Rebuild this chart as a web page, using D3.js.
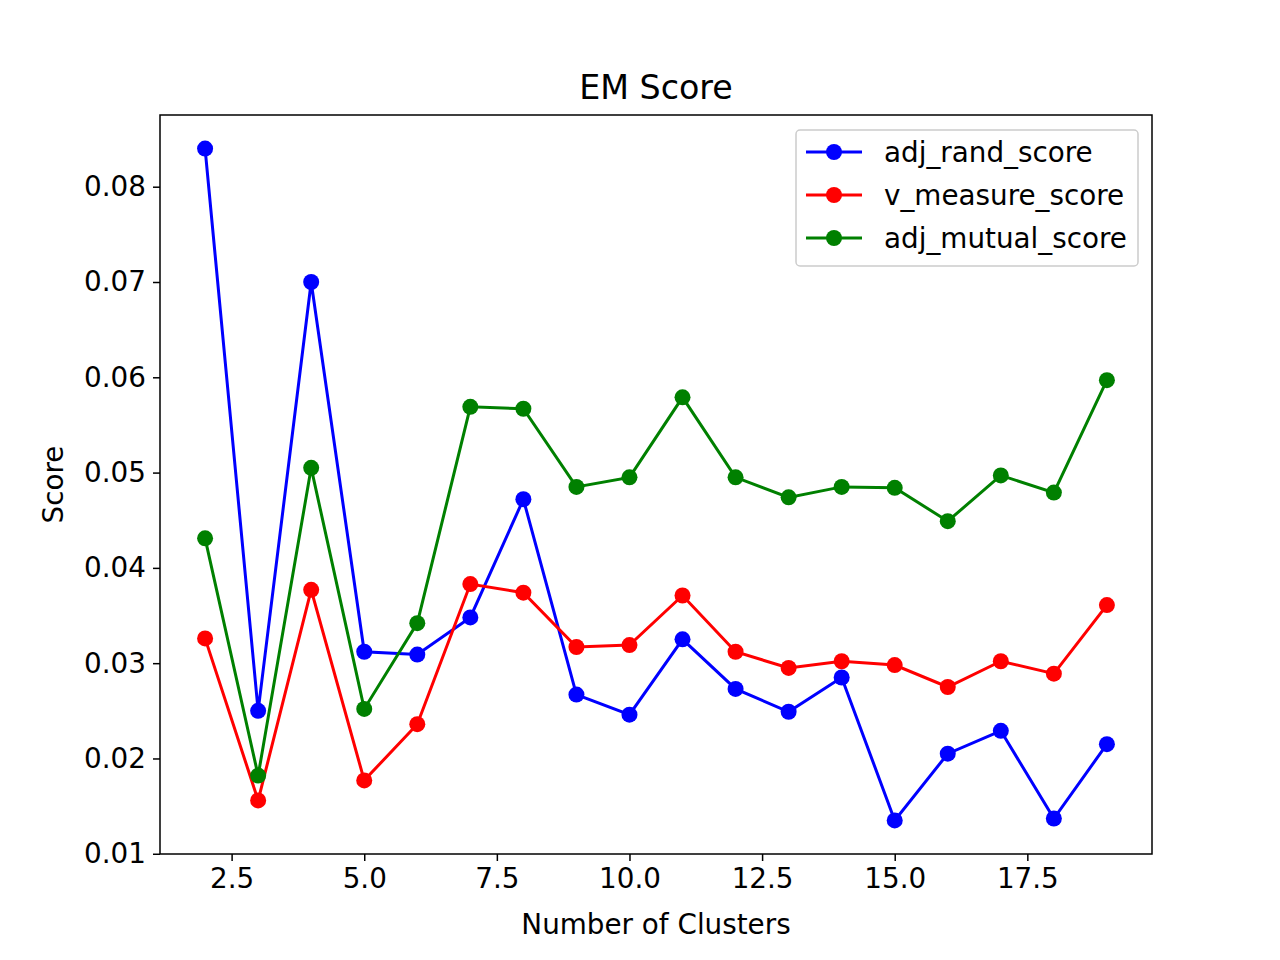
<!DOCTYPE html>
<html><head><meta charset="utf-8">
<script src="https://cdn.jsdelivr.net/npm/d3@7"></script>
<style>body{margin:0;background:#fff}svg{font-family:"DejaVu Sans",sans-serif}</style>
</head><body>
<svg id="chart" width="1280" height="960"></svg>
<script>
var clusters = [2,3,4,5,6,7,8,9,10,11,12,13,14,15,16,17,18,19];
var adjRand = [0.084,0.025,0.070,0.0312,0.0309,0.0348,0.0472,0.0267,0.0246,0.0325,0.0273,0.0249,0.0285,0.0135,0.0205,0.0229,0.0137,0.0215];
var vMeasure = [0.0326,0.0156,0.0377,0.0177,0.0236,0.0383,0.0374,0.0317,0.0319,0.0371,0.0312,0.0295,0.0302,0.0298,0.0275,0.0302,0.0289,0.0361];
var adjMutual = [0.0431,0.0182,0.0505,0.0252,0.0342,0.0569,0.0567,0.0485,0.0495,0.0579,0.0495,0.0474,0.0485,0.0484,0.0449,0.0497,0.0479,0.0597];
var seriesNames = ["adj_rand_score","v_measure_score","adj_mutual_score"];
var seriesColors = ["#0000ff","#ff0000","#008000"];
var xTicks = [2.5,5.0,7.5,10.0,12.5,15.0,17.5];
var yTicks = [0.01,0.02,0.03,0.04,0.05,0.06,0.07,0.08];

var svg = d3.select('#chart'),
    plotLeft = 160, plotRight = 1152, plotTop = 115, plotBottom = 854,
    fs = 27.8;

var x = d3.scaleLinear().domain([1.15,19.85]).range([plotLeft,plotRight]),
    y = d3.scaleLinear().domain([0.009975,0.087525]).range([plotBottom,plotTop]);

var series = [adjRand, vMeasure, adjMutual];

// lines and markers
series.forEach(function(vals, i) {
    var pts = clusters.map(function(c, j) { return [c, vals[j]]; });
    svg.append('path')
        .attr('d', d3.line().x(function(d){return x(d[0]);}).y(function(d){return y(d[1]);})(pts))
        .attr('fill','none').attr('stroke',seriesColors[i]).attr('stroke-width',3);
    svg.selectAll(null).data(pts).enter().append('circle')
        .attr('cx',function(d){return x(d[0]);}).attr('cy',function(d){return y(d[1]);})
        .attr('r',8).attr('fill',seriesColors[i]);
});

// axes
var xAxis = svg.append('g').attr('transform','translate(0,'+plotBottom+')')
    .call(d3.axisBottom(x).tickValues(xTicks).tickFormat(d3.format('.1f')).tickSizeOuter(0).tickSize(7).tickPadding(7));
var yAxis = svg.append('g').attr('transform','translate('+plotLeft+',0)')
    .call(d3.axisLeft(y).tickValues(yTicks).tickFormat(d3.format('.2f')).tickSizeOuter(0).tickSize(7).tickPadding(7));
[xAxis,yAxis].forEach(function(a){
    a.select('.domain').remove();
    a.selectAll('line').attr('stroke','#000').attr('stroke-width',1.5);
    a.selectAll('text').attr('font-size',fs).attr('fill','#000').attr('font-family','DejaVu Sans');
});

svg.append('rect').attr('x',plotLeft).attr('y',plotTop).attr('width',plotRight-plotLeft).attr('height',plotBottom-plotTop)
    .attr('fill','none').attr('stroke','#000').attr('stroke-width',1.5);

svg.append('text').attr('x',(plotLeft+plotRight)/2).attr('y',99).attr('text-anchor','middle')
    .attr('font-size',33.3).text('EM Score');
svg.append('text').attr('x',(plotLeft+plotRight)/2).attr('y',934).attr('text-anchor','middle')
    .attr('font-size',fs).text('Number of Clusters');
svg.append('text').attr('transform','translate(63,'+((plotTop+plotBottom)/2)+') rotate(-90)')
    .attr('text-anchor','middle').attr('font-size',fs).text('Score');

// legend
var lg = svg.append('g');
lg.append('rect').attr('x',796).attr('y',130).attr('width',342).attr('height',136).attr('rx',4)
    .attr('fill','#fff').attr('fill-opacity',0.8).attr('stroke','#ccc').attr('stroke-width',1.5);
seriesNames.forEach(function(n, i) {
    var yy = 152 + i*43;
    lg.append('line').attr('x1',806).attr('x2',862).attr('y1',yy).attr('y2',yy)
        .attr('stroke',seriesColors[i]).attr('stroke-width',3);
    lg.append('circle').attr('cx',834).attr('cy',yy).attr('r',8).attr('fill',seriesColors[i]);
    lg.append('text').attr('x',884).attr('y',yy+10).attr('font-size',fs).text(n);
});
</script>
</body></html>
